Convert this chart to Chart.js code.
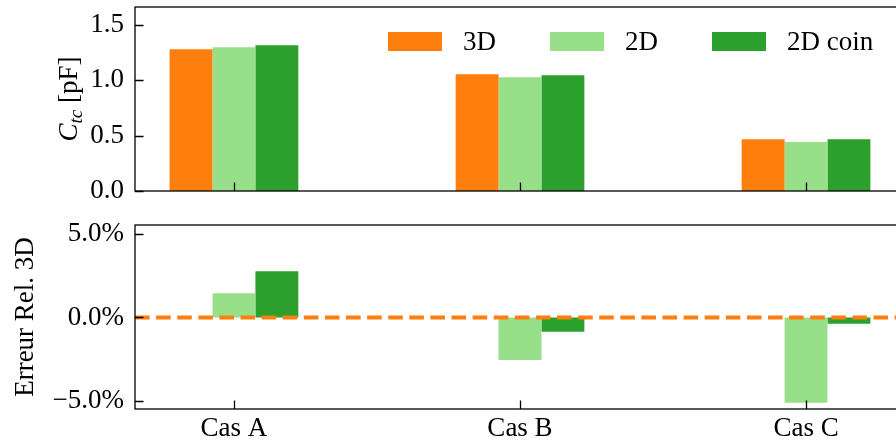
<!DOCTYPE html>
<html>
<head>
<meta charset="utf-8">
<script src="https://cdn.jsdelivr.net/npm/chart.js@4/dist/chart.umd.min.js"></script>
<style>
  html, body { margin: 0; padding: 0; background: #fff; overflow: hidden; }
  #wrap { position: relative; width: 896px; height: 444px; overflow: hidden; }
  canvas { position: absolute; left: 0; }
  #top { top: 0; }
  #bottom { top: 215px; }
</style>
</head>
<body>
<div id="wrap">
  <canvas id="top" width="930" height="215"></canvas>
  <canvas id="bottom" width="930" height="229"></canvas>
</div>
<script>
// categories and series
var cases = ['Cas A', 'Cas B', 'Cas C'];
var series = ['3D', '2D', '2D coin'];
var colors = ['#ff7f0e', '#98df8a', '#2ca02c'];

// capacitance C_tc [pF]
var ctc3D = [1.279, 1.054, 0.468];
var ctc2D = [1.297, 1.027, 0.441];
var ctc2DCoin = [1.315, 1.045, 0.468];

// relative error vs 3D [%]
var err3D = [0, 0, 0];
var err2D = [1.46, -2.55, -5.13];
var err2DCoin = [2.78, -0.86, -0.38];
var refLine = 0; // 3D reference

// tick values
var xTicks = [0, 1, 2];
var yTicksCtc = [0, 0.5, 1.0, 1.5];
var yTicksErr = [-5, 0, 5];

var FONT = "'Liberation Serif', 'Times New Roman', serif";
var FS = 27;

function toPoints(vals) {
  return vals.map(function (v, i) { return { x: i, y: v }; });
}

function makeDatasets(arrs) {
  return arrs.map(function (a, i) {
    return {
      label: series[i],
      data: toPoints(a),
      backgroundColor: colors[i],
      borderWidth: 0,
      categoryPercentage: 0.45,
      barPercentage: 1.0
    };
  });
}

function setTicks(vals) {
  return function (s) { s.ticks = vals.map(function (v) { return { value: v }; }); };
}

// frame + inward ticks, matplotlib style
var framePlugin = {
  id: 'frame',
  afterDatasetsDraw: function (chart, args, opts) {
    var ctx = chart.ctx, a = chart.chartArea;
    var xs = chart.scales.x, ys = chart.scales.y;
    ctx.save();
    if (opts.refLine !== undefined) {
      var py = ys.getPixelForValue(opts.refLine);
      ctx.beginPath();
      ctx.rect(a.left, a.top, a.right - a.left, a.bottom - a.top);
      ctx.clip();
      ctx.strokeStyle = colors[0];
      ctx.lineWidth = 4;
      ctx.setLineDash([14.6, 6.5]);
      ctx.beginPath();
      ctx.moveTo(a.left, py);
      ctx.lineTo(a.right, py);
      ctx.stroke();
      ctx.setLineDash([]);
    }
    ctx.restore();
    ctx.save();
    ctx.strokeStyle = '#000';
    ctx.lineWidth = 1.3;
    ctx.beginPath();
    xs.ticks.forEach(function (t, i) {
      var px = Math.round(xs.getPixelForTick(i)) + 0.5;
      ctx.moveTo(px, a.bottom);
      ctx.lineTo(px, a.bottom - 8.5);
    });
    ys.ticks.forEach(function (t, i) {
      var py = Math.round(ys.getPixelForTick(i)) + 0.5;
      ctx.moveTo(a.left, py);
      ctx.lineTo(a.left + 8.5, py);
    });
    ctx.stroke();
    ctx.strokeRect(a.left, a.top, a.right - a.left, a.bottom - a.top);
    ctx.restore();
  },
  afterDraw: function (chart, args, opts) {
    var ctx = chart.ctx, a = chart.chartArea;
    // y axis title
    if (opts.title) {
      var parts = opts.title;
      ctx.save();
      ctx.fillStyle = '#000';
      ctx.textBaseline = 'alphabetic';
      var total = 0;
      parts.forEach(function (p) {
        ctx.font = (p.italic ? 'italic ' : '') + (p.sub ? 19 : FS) + 'px ' + FONT;
        p.w = ctx.measureText(p.t).width;
        total += p.w;
      });
      ctx.translate(opts.titleX, (a.top + a.bottom) / 2);
      ctx.rotate(-Math.PI / 2);
      var x = -total / 2;
      parts.forEach(function (p) {
        ctx.font = (p.italic ? 'italic ' : '') + (p.sub ? 19 : FS) + 'px ' + FONT;
        ctx.fillText(p.t, x, p.sub ? 5 : 0);
        x += p.w;
      });
      ctx.restore();
    }
    // legend
    if (opts.legend) {
      ctx.save();
      ctx.font = FS + 'px ' + FONT;
      ctx.fillStyle = '#000';
      ctx.textBaseline = 'middle';
      var lx = a.left + 253, ly = 41.5;
      chart.data.datasets.forEach(function (ds) {
        ctx.fillStyle = ds.backgroundColor;
        ctx.fillRect(lx, ly - 9.5, 54, 19);
        lx += 54 + 21;
        ctx.fillStyle = '#000';
        ctx.fillText(ds.label, lx, ly + 1);
        lx += ctx.measureText(ds.label).width + 54;
      });
      ctx.restore();
    }
  }
};

Chart.defaults.font.family = FONT;
Chart.defaults.font.size = FS;
Chart.defaults.color = '#000';

function xScale(showLabels, h) {
  return {
    type: 'linear',
    offset: false,
    min: -0.346,
    max: 2.346,
    afterBuildTicks: setTicks(xTicks),
    grid: { display: false, drawTicks: false, offset: false },
    border: { display: false },
    ticks: {
      display: showLabels,
      padding: 6,
      font: { size: FS, lineHeight: 1 },
      maxRotation: 0,
      autoSkip: false,
      callback: function (v) { return cases[v]; }
    },
    afterFit: function (s) {
      s.height = h;
      s.paddingLeft = 0; s.paddingRight = 0;
    }
  };
}

function yScale(min, max, ticks, fmt) {
  return {
    min: min,
    max: max,
    afterBuildTicks: setTicks(ticks),
    grid: { display: false, drawTicks: false },
    border: { display: false },
    ticks: { padding: 11, font: { size: FS, lineHeight: 1 }, callback: fmt },
    afterFit: function (s) {
      s.width = 135;
      s.paddingTop = 0; s.paddingBottom = 0;
    }
  };
}

new Chart(document.getElementById('top'), {
  type: 'bar',
  data: { datasets: makeDatasets([ctc3D, ctc2D, ctc2DCoin]) },
  options: {
    responsive: false,
    animation: false,
    devicePixelRatio: 1,
    layout: { padding: { top: 7, right: 25, left: 0, bottom: 0 } },
    scales: {
      x: xScale(false, 24),
      y: yScale(0, 1.66, yTicksCtc, function (v) { return v.toFixed(1); })
    },
    plugins: {
      legend: { display: false },
      tooltip: { enabled: false },
      frame: {
        legend: true,
        titleX: 77,
        title: [{ t: 'C', italic: true }, { t: 'tc', italic: true, sub: true }, { t: ' [pF]' }]
      }
    }
  },
  plugins: [framePlugin]
});

new Chart(document.getElementById('bottom'), {
  type: 'bar',
  data: { datasets: makeDatasets([err3D, err2D, err2DCoin]) },
  options: {
    responsive: false,
    animation: false,
    devicePixelRatio: 1,
    layout: { padding: { top: 10, right: 25, left: 0, bottom: 0 } },
    scales: {
      x: xScale(true, 35),
      y: yScale(-5.5, 5.56, yTicksErr, function (v) {
        return (v < 0 ? '\u2212' : '') + Math.abs(v).toFixed(1) + '%';
      })
    },
    plugins: {
      legend: { display: false },
      tooltip: { enabled: false },
      frame: {
        refLine: refLine,
        titleX: 33,
        title: [{ t: 'Erreur Rel. 3D' }]
      }
    }
  },
  plugins: [framePlugin]
});
</script>
</body>
</html>
